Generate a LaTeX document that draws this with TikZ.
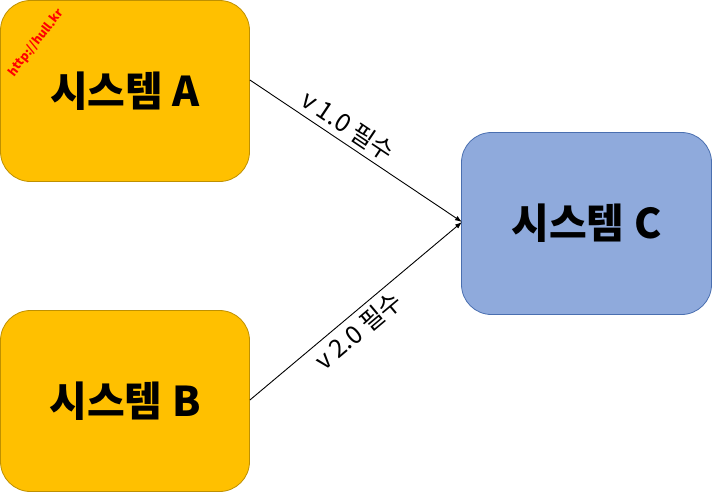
\documentclass[tikz,border=0pt]{standalone}
\usepackage{fontspec}
\setmainfont{Noto Sans CJK KR}
\usetikzlibrary{arrows.meta}
\definecolor{org}{HTML}{FFC000}
\definecolor{orgd}{HTML}{BF9000}
\definecolor{blu}{HTML}{8FAADC}
\definecolor{blud}{HTML}{4A6FB0}
\begin{document}
\begin{tikzpicture}[x=1pt,y=-1pt,
  sys/.style={rounded corners=30pt,line width=0.8pt,minimum width=249pt,minimum height=181pt,font=\bfseries\fontsize{41}{44}\selectfont},
  arr/.style={-{Latex[length=7pt,width=5pt]},line width=0.9pt},
  lbl/.style={font=\fontsize{25}{30}\selectfont,inner sep=5pt}]
\useasboundingbox (0,0) rectangle (712,493);
\node[sys,fill=org,draw=orgd] (A) at (125,91) {시스템 A};
\node[sys,fill=org,draw=orgd] (B) at (125,401) {시스템 B};
\node[sys,fill=blu,draw=blud,minimum width=250pt,minimum height=182pt] (C) at (586.5,223.5) {시스템 C};
\coordinate (ae) at (462,222);
\draw[arr] (A.east|-0,80) -- (ae) node[lbl,pos=0.42,above,sloped] {v 1.0 필수};
\draw[arr] (B.east|-0,400) -- (ae) node[lbl,pos=0.46,below,sloped] {v 2.0 필수};
\node[text=red,rotate=52,font=\bfseries\fontsize{12}{14}\selectfont] (w) at (36,43) {http://hull.kr};
\end{tikzpicture}
\end{document}
